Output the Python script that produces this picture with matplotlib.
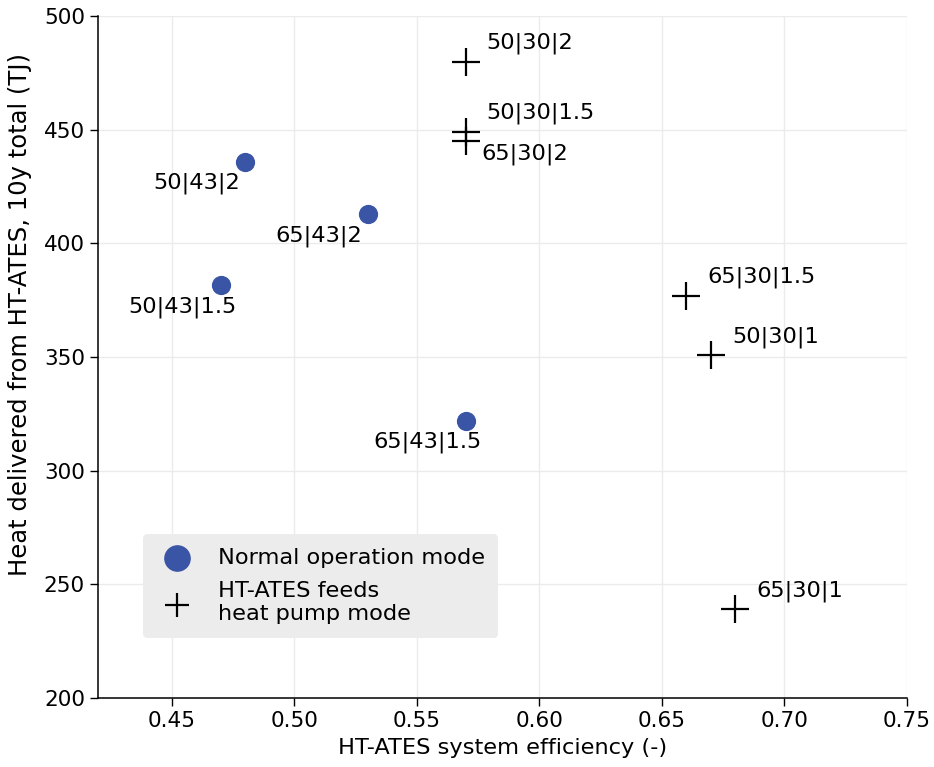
import matplotlib.pyplot as plt

# normal operation mode
normal_labels = ['50|43|2', '65|43|2', '50|43|1.5', '65|43|1.5']
normal_eff = [0.48, 0.53, 0.47, 0.57]
normal_heat = [436, 413, 381.5, 322]

# HT-ATES feeds heat pump mode
hp_labels = ['50|30|2', '50|30|1.5', '65|30|2', '65|30|1.5', '50|30|1', '65|30|1']
hp_eff = [0.57, 0.57, 0.57, 0.66, 0.67, 0.68]
hp_heat = [480, 449, 445, 377, 351, 239]

blue = '#3a55a5'
fs = 16.2

fig, ax = plt.subplots(figsize=(9.34, 7.67), dpi=100)
fig.subplots_adjust(left=0.105, right=0.971, top=0.979, bottom=0.09)

ax.grid(True, color='#ebebeb', linewidth=1, zorder=0)
ax.set_axisbelow(True)

ax.scatter(normal_eff, normal_heat, s=165, color=blue, zorder=3,
           label='Normal operation mode')
ax.scatter(hp_eff, hp_heat, s=390, marker='+', color='black', linewidths=1.6,
           zorder=3, label='HT-ATES feeds\nheat pump mode')

for x, y, lab in zip(normal_eff, normal_heat, normal_labels):
    ax.annotate(lab, (x, y), xytext=(-92, -22), textcoords='offset pixels',
                ha='left', va='center', fontsize=fs)

hp_offsets = [(21, 18), (21, 19), (16, -13), (21, 18), (21, 18), (21, 18)]
for x, y, lab, off in zip(hp_eff, hp_heat, hp_labels, hp_offsets):
    ax.annotate(lab, (x, y), xytext=off, textcoords='offset pixels',
                ha='left', va='center', fontsize=fs)

ax.set_xlim(0.42, 0.75)
ax.set_ylim(200, 500)
ax.set_xticks([0.45, 0.50, 0.55, 0.60, 0.65, 0.70, 0.75])
ax.tick_params(labelsize=15.5, length=6, width=1)
ax.set_xlabel('HT-ATES system efficiency (-)', fontsize=fs, labelpad=5)
fig.text(20 / 934, 1 - 315 / 767, 'Heat delivered from HT-ATES, 10y total (TJ)',
         rotation=90, ha='center', va='center', fontsize=17.5)

ax.spines['top'].set_visible(False)
ax.spines['right'].set_visible(False)
for side in ['left', 'bottom']:
    ax.spines[side].set_linewidth(1.1)

leg = ax.legend(loc='lower left', bbox_to_anchor=(0.056, 0.088), borderaxespad=0,
                facecolor='#ececec', edgecolor='none', framealpha=1, fancybox=True,
                borderpad=0.6, handlelength=1.75, handletextpad=0.95,
                fontsize=fs, labelspacing=0.6)
leg.legend_handles[0].set_sizes([330])
leg.legend_handles[1].set_sizes([320])

fig.savefig('out.png')
